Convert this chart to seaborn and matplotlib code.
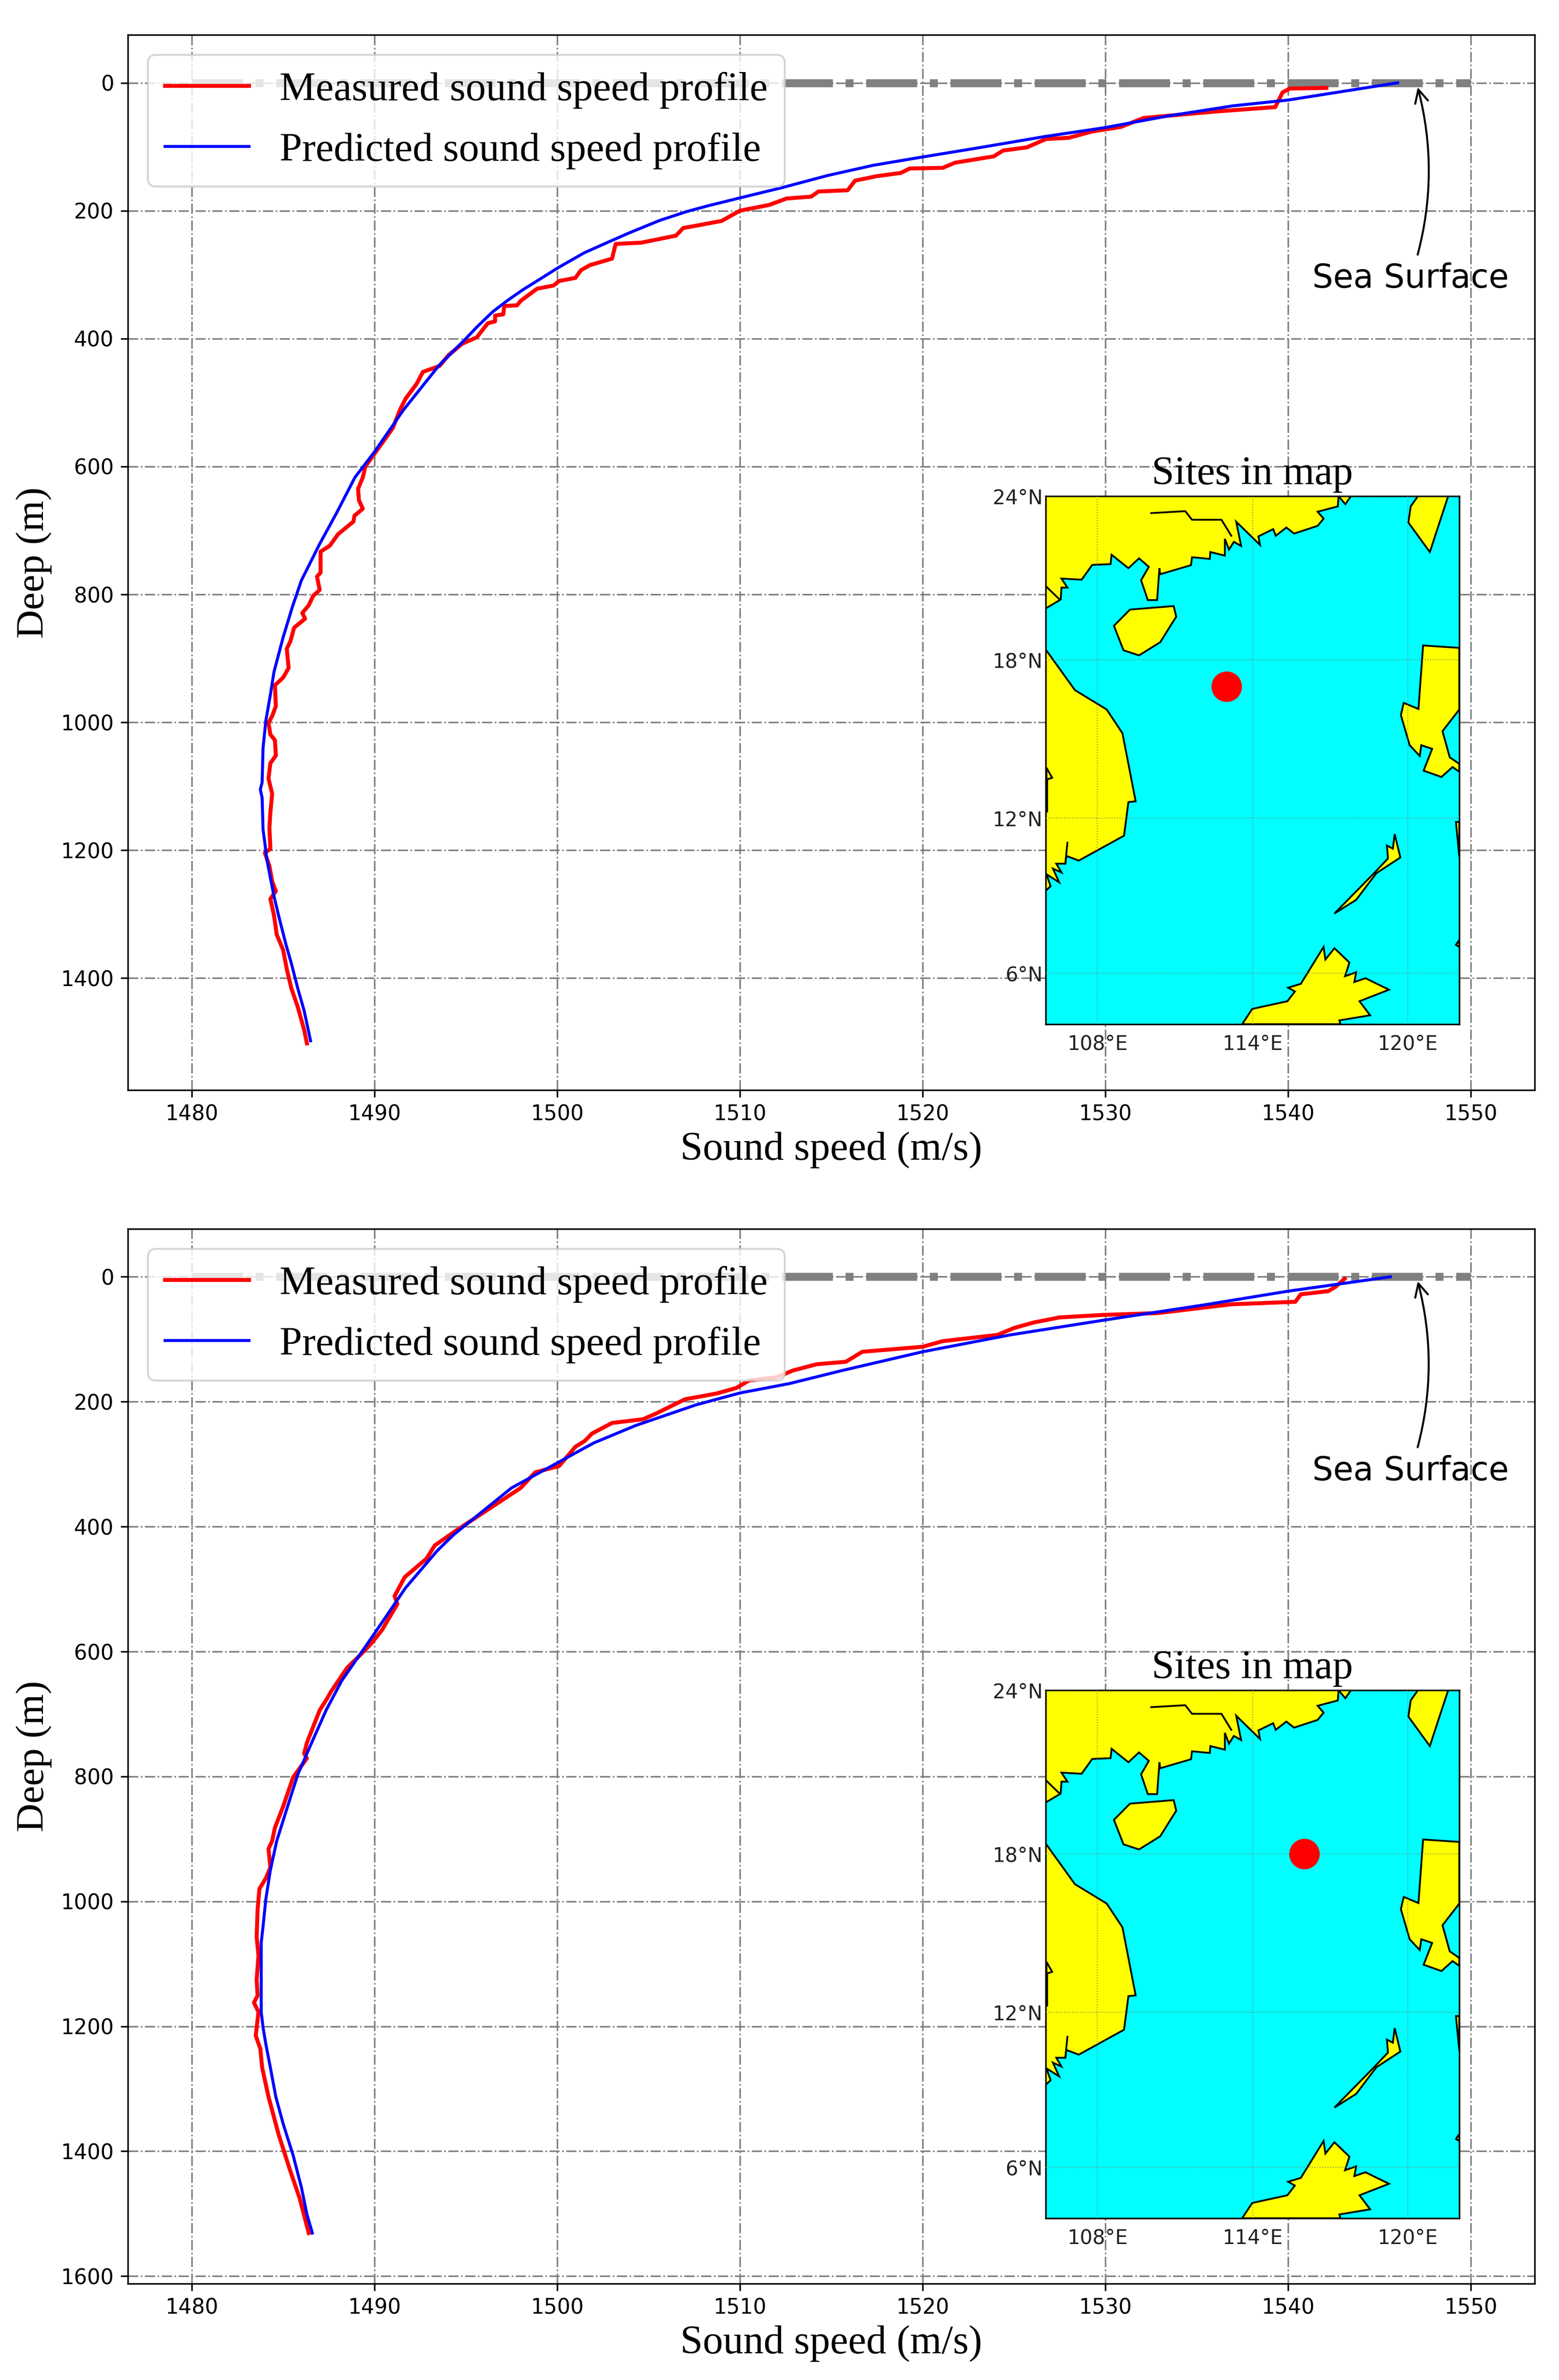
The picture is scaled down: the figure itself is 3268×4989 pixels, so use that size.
"""Measured vs predicted sound speed profiles, two stations with site maps."""
import numpy as np
import matplotlib; matplotlib.use("Agg")
import matplotlib.pyplot as plt
import seaborn as sns

W, H = 3268, 4989
SERIF = "Liberation Serif"

# ── profile data (m/s, m) ────────────────────────────────────────────────────
meas1_speed = [1542.1,1540.1,1539.7,1539.3,1536.0,1532.1,1530.85,1529.3,1528.0,1526.75,1525.7,1524.4,1523.9,1521.77,
               1521.1,1519.3,1518.8,1517.5,1516.3,1515.9,1514.3,1513.9,1512.55,1511.6,1510.0,1509.0,1507.5,1506.9,
               1506.5,1504.6,1503.2,1503.0,1501.8,1501.3,1501.0,1500.1,1499.8,1498.9,1498.0,1497.8,1497.1,1497.05,
               1496.6,1496.6,1496.2,1495.6,1494.8,1494.05,
               1493.55,1492.65,1492.3,1491.7,1491.4,1491.0,1490.5,1490.0,1489.5,1489.36,1489.1,1489.15,1489.36,
               1488.9,1488.85,1488.0,1487.55,1487.05,1487.05,1486.85,1487.0,1486.65,1486.4,1486.05,1486.2,1485.6,
               1485.4,1485.2,1485.3,1485.0,1484.55,1484.6,1484.4,1484.2,1484.3,1484.55,1484.6,1484.3,1484.2,1484.4,
               1484.3,1484.25,1484.3,1484.0,1484.25,1484.4,1484.6,1484.3,1484.5,1484.65,1485.0,1485.2,1485.45,
               1485.8,1486.15,1486.3]
meas1_depth = [8,9,15,38,45,55,69,76,86,88,101,106,115,125,133,134,141,146,153,168,170,178,181,191,200,216,224,227,
               239,250,252,275,285,293,305,310,317,322,341,348,349,362,364,373,376,398,408,426,443,452,471,494,511,
               540,560,580,600,617,635,653,
               666,677,686,706,724,733,766,772,793,802,817,829,838,852,873,885,915,930,942,975,990,1001,1019,1028,
               1052,1064,1088,1112,1141,1165,1198,1204,1225,1249,1264,1276,1302,1332,1356,1386,1416,1445,1481,1502]
pred1_speed = [1546.0,1540.0,1537.0,1533.4,1530.0,1526.7,1523.2,1520.0,1517.3,1514.8,1512.3,1510.0,1508.3,
               1507.13,1505.63,1504.0,1502.8,1501.47,1500.0,1499.0,1498.1,1497.3,1496.47,1495.6,1495.0,1493.5,
               1491.6,1490.0,1488.93,1487.9,1487.0,1486.0,1485.5,1485.0,1484.5,1484.3,1484.05,1483.9,1483.85,
               1483.75,1483.85,1483.9,1484.0,1484.1,1484.3,1484.5,1484.75,1485.15,1485.45,1485.8,1486.15,1486.5]
pred1_depth = [0,27,36,52,70,84,101,116,129,145,164,180,192,201,215,234,249,266,290,308,324,340,358,382,400,443,
               511,577,617,674,721,778,820,867,921,957,998,1040,1094,1105,1118,1168,1189,1213,1243,1272,1302,1347,
               1377,1416,1451,1498]

meas2_speed = [1543.1,1542.6,1542.2,1540.7,1540.4,1536.9,1532.9,1529.9,1527.5,1526.1,1525.0,1524.1,1521.1,1520.0,
               1516.7,1515.8,1514.2,1512.9,1512.0,1510.5,1509.8,1508.7,1507.0,1505.4,1504.7,1503.0,1501.9,1501.5,
               1501.0,1500.1,1498.8,1498.0,1494.33,1493.3,1492.85,1491.65,1491.1,1491.25,1490.4,1489.8,1489.1,
               1488.5,1487.6,1487.45,1487.0,1486.3,1486.15,1486.3,1485.55,1485.0,1484.55,1484.4,1484.2,1484.3,
               1484.05,1483.7,1483.6,1483.55,1483.65,1483.55,1483.6,1483.4,1483.65,1483.5,1483.75,1483.85,1484.2,
               1484.75,1485.35,1485.9,1486.4]
meas2_depth = [3,16,23,28,40,44,58,61,65,73,82,93,103,112,120,136,140,150,161,166,178,187,196,219,228,234,251,263,
               272,303,313,338,409,430,451,481,511,524,566,588,609,626,665,673,694,746,763,771,801,848,882,903,916,
               946,963,980,1014,1057,1087,1125,1151,1162,1177,1215,1236,1266,1313,1373,1428,1475,1531]
pred2_speed = [1545.6,1540.0,1535.4,1530.0,1524.8,1520.0,1515.6,1512.7,1510.0,1507.6,1504.3,1502.0,1500.0,1497.5,
               1494.33,1493.45,1491.7,1490.0,1489.1,1488.2,1487.35,1486.5,1485.8,1485.2,1484.65,1484.3,1484.05,
               1483.9,1483.8,1483.8,1483.9,1484.05,1484.3,1484.6,1485.0,1485.55,1486.0,1486.3,1486.6]
pred2_depth = [0,23,45,69,93,120,150,171,186,205,238,266,298,338,413,438,498,571,609,647,694,750,797,852,903,950,997,
               1040,1066,1177,1202,1228,1266,1313,1356,1407,1458,1501,1531]

speed_ticks = [1480,1490,1500,1510,1520,1530,1540,1550]
depth_ticks1 = [0,200,400,600,800,1000,1200,1400]
depth_ticks2 = depth_ticks1 + [1600]
surface_speed = [1480,1550]
surface_depth = [0,0]

# ── map data (lon °E, lat °N) ────────────────────────────────────────────────
china_lon = [106,117.33,117.30,116.52,116.75,116.52,115.61,115.31,114.90,114.80,114.23,114.29,113.37,113.56,113.28,
             113.09,112.93,112.93,112.37,112.35,111.66,111.62,110.43,110.40,110.31,109.95,109.69,109.99,109.61,
             109.20,108.55,108.51,107.80,107.39,106.61,106.84,106.61,106.58,106.03,106]
china_lat = [24,24,23.63,23.44,23.19,22.93,22.65,22.87,22.57,22.81,22.55,22.24,23.08,22.20,22.35,22.07,22.46,21.85,
             21.98,21.73,21.79,21.50,21.17,21.39,20.22,20.22,20.95,21.44,21.75,21.39,21.88,21.54,21.51,20.97,21.01,
             20.68,20.68,20.24,19.93,19.93]
china_tip_lon = [117.33,117.59,117.81]
china_tip_lat = [24,23.71,24]
hainan_lon = [108.64,109.26,110.95,111.05,110.43,109.61,109.01]
hainan_lat = [19.27,19.87,20.00,19.61,18.66,18.17,18.36]
taiwan_lon = [120.40,120.12,120.03,120.86,121.57]
taiwan_lat = [24,23.63,23.05,21.98,24]
vietnam_lon = [106,107.13,108.36,108.97,109.48,109.20,109.03,107.28,106.80,106.76,106.41,106.61,106.28,106.52,106.03,
               106.19,106.03,106]
vietnam_lat = [18.39,16.87,16.14,15.24,12.65,12.62,11.33,10.37,10.55,10.25,10.25,9.91,10.06,9.53,9.84,9.38,9.23,9.23]
sliver_lon = [106.03,106.25,106.03]
sliver_lat = [13.93,13.55,13.48]
luzon_lon = [120.60,122,122,121.35,121.63,122,122,121.74,121.31,120.62,120.95,120.53,120.47,120.08,119.74,119.85,120.42]
luzon_lat = [18.54,18.45,16.14,15.32,14.33,14.08,13.78,13.96,13.58,13.82,14.65,14.79,14.38,14.79,15.93,16.39,16.16]
palawan_lon = [117.17,118.66,119.24,119.20,119.43,119.50,119.72,118.79,118.01]
palawan_lat = [8.32,9.84,10.45,10.95,10.83,11.39,10.49,9.88,8.85]
borneo_lon = [113.60,113.99,115.35,115.64,115.38,115.87,116.75,116.82,117.17,117.75,117.58,118.01,117.94,118.37,119.28,
              118.14,118.55,117.36,117.40]
borneo_lat = [4,4.60,4.90,5.28,5.43,5.58,7.02,6.53,6.97,6.41,5.88,6.03,5.65,5.80,5.35,4.90,4.35,4.15,4]
east1_lon = [121.87,122,122]
east1_lat = [11.86,11.86,10.52]
east2_lon = [121.87,122,122]
east2_lat = [7.10,7.29,7.02]
LAND = [(china_lon,china_lat),(china_tip_lon,china_tip_lat),(hainan_lon,hainan_lat),(taiwan_lon,taiwan_lat),
        (vietnam_lon,vietnam_lat),(sliver_lon,sliver_lat),(luzon_lon,luzon_lat),(palawan_lon,palawan_lat),
        (borneo_lon,borneo_lat),(east1_lon,east1_lat),(east2_lon,east2_lat)]
# open coast lines drawn on top of the land
LINES = [([110.08,111.40,111.66,112.80,113.18],[23.39,23.46,23.15,23.15,22.57]),
         ([106.03,106.54],[20.71,20.24]),
         ([106.76,106.84],[10.25,11.06]),
         ([106.05,106.05],[13.48,12.27])]
lon_ticks = [108,114,120]
lat_ticks = [6,12,18,24]
site1 = (113.0,17.0)
site2 = (116.0,18.0)

def box(l,t,r,b):
    return [l/W,1-b/H,(r-l)/W,(b-t)/H]

def merc(lat):
    return np.log(np.tan(np.pi/4+np.radians(np.clip(lat,-85,85))/2))

def merc_inv(y):
    return np.degrees(2*np.arctan(np.exp(y))-np.pi/2)

def draw_map(fig,rect,site):
    m=fig.add_axes(rect,facecolor="#00ffff")
    m.set_yscale("function",functions=(merc,merc_inv))
    for lon,lat in LAND:
        m.fill(lon,lat,facecolor="#ffff00",edgecolor="black",linewidth=0.9,zorder=2)
    for lon,lat in LINES:
        m.plot(lon,lat,color="black",linewidth=0.9,zorder=3)
    m.scatter([site[0]],[site[1]],s=235,color="red",linewidths=0,zorder=4)
    m.set_xlim(106,122); m.set_ylim(4,24)
    m.set_xticks(lon_ticks); m.set_yticks(lat_ticks); m.minorticks_off()
    m.set_xticklabels([f"{v}°E" for v in lon_ticks],fontsize=10,color="#222")
    m.set_yticklabels([f"{v}°N" for v in lat_ticks],fontsize=10,color="#222")
    m.tick_params(axis="x",length=0,pad=5); m.tick_params(axis="y",length=0,pad=1.5)
    m.yaxis.set_minor_formatter(plt.NullFormatter())
    m.grid(color="gray",linestyle=":",linewidth=0.5,alpha=0.8,zorder=3); m.set_axisbelow(False)
    m.set_title("Sites in map",fontsize=20.5,family=SERIF,pad=6)

def draw_panel(fig,rect,ylim,yticks,mspeed,mdepth,pspeed,pdepth,map_rect,site,label_depth):
    ax=fig.add_axes(rect)
    ax.plot(surface_speed,surface_depth,color="gray",linestyle="-.",linewidth=4,zorder=2)
    sns.lineplot(x=mspeed,y=mdepth,sort=False,estimator=None,color="red",linewidth=2,
                 label="Measured sound speed profile",ax=ax,zorder=3)
    sns.lineplot(x=pspeed,y=pdepth,sort=False,estimator=None,color="blue",linewidth=1.5,
                 label="Predicted sound speed profile",ax=ax,zorder=4)
    ax.set_xlim(1476.5,1553.5); ax.set_ylim(*ylim)
    ax.set_xticks(speed_ticks); ax.set_yticks(yticks)
    ax.tick_params(labelsize=10.5)
    ax.grid(color="gray",linestyle="-.",linewidth=0.8)
    ax.set_axisbelow(True)
    ax.set_xlabel("Sound speed (m/s)",fontsize=20.4,family=SERIF,labelpad=3.5)
    ax.set_ylabel("Deep (m)",fontsize=20,family=SERIF,labelpad=4.4)
    ax.legend(loc="upper left",bbox_to_anchor=(0.0142,0.981),prop={"family":SERIF,"size":20.4},
              borderaxespad=0,borderpad=0.42,labelspacing=0.58,handlelength=2.08,handletextpad=0.75)
    ax.annotate("Sea Surface",xy=(1547.1,7),xytext=(1546.7,label_depth),fontsize=16.5,ha="center",va="center",
                arrowprops=dict(arrowstyle="->",color="black",connectionstyle="arc3,rad=0.15",linewidth=1,shrinkB=0))
    draw_map(fig,map_rect,site)

fig=plt.figure(figsize=(W/300,H/300),dpi=300,facecolor="white")
draw_panel(fig,box(268,73,3217,2285),(1575,-75),depth_ticks1,meas1_speed,meas1_depth,pred1_speed,pred1_depth,
           box(2192,1040,3059,2147),site1,306)
draw_panel(fig,box(268,2576,3217,4787),(1612,-76.75),depth_ticks2,meas2_speed,meas2_depth,pred2_speed,pred2_depth,
           box(2192,3543,3059,4650),site2,311)
fig.savefig("out.png",dpi=300)
